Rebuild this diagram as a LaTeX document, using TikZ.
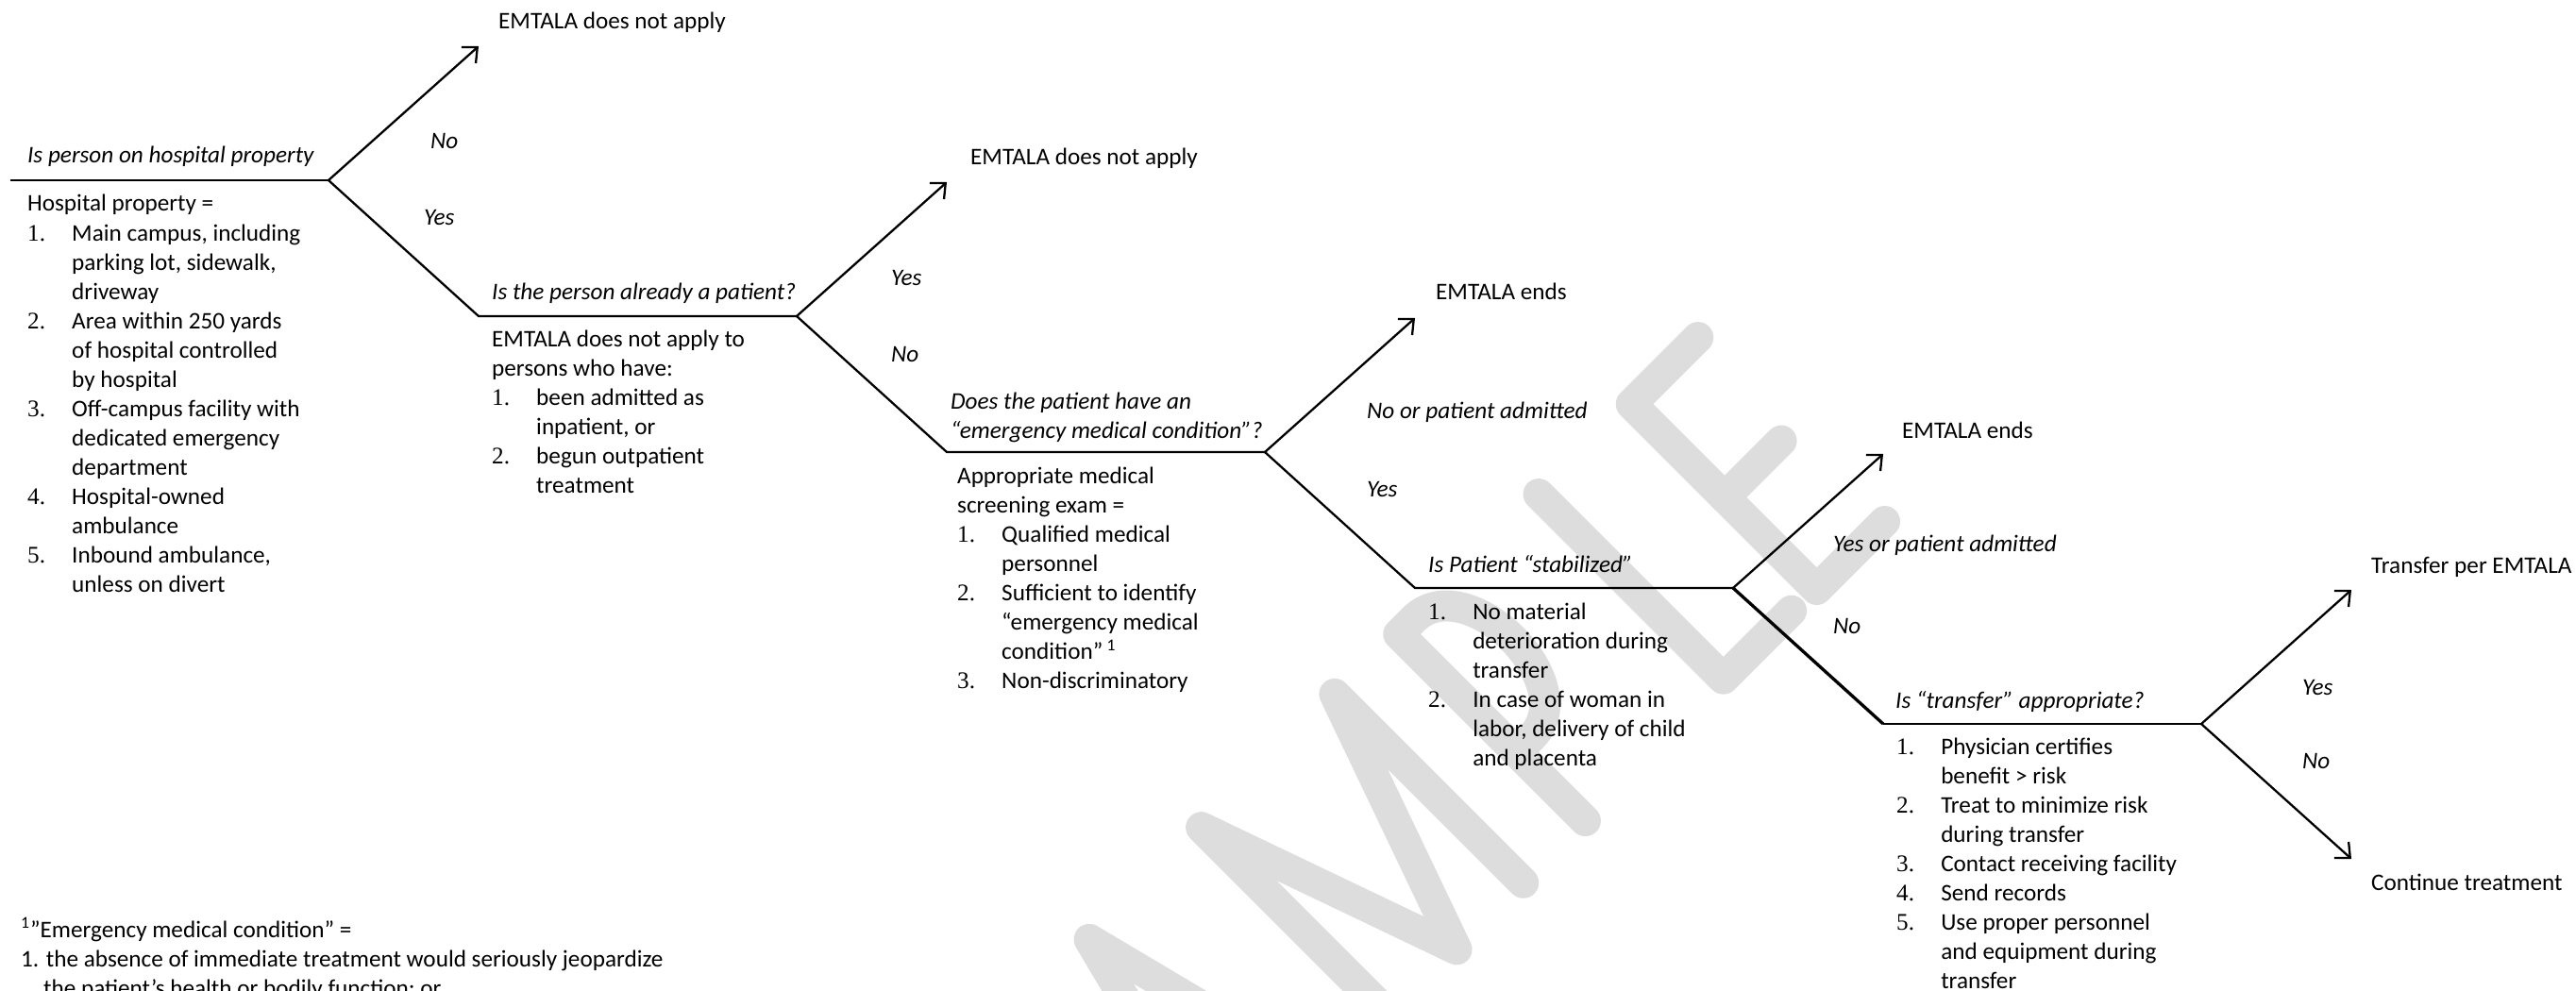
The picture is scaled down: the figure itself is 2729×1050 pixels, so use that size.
\documentclass[tikz,border=0pt]{standalone}
\usepackage{fontspec}
\setmainfont{Carlito}
\newfontfamily\numfont{Liberation Serif}
\usepackage{tikz}
\usetikzlibrary{arrows.meta}
\tikzstyle{arrow} = [->, >={Straight Barb[length=6pt,width=11pt]}]
\definecolor{wmgray}{RGB}{221,221,221}
\newcommand{\txtsize}{\fontsize{12.1}{14.9}\selectfont}
\newcommand{\itemno}[1]{\makebox[22.6pt][l]{\numfont #1}}
\newcommand{\itemgap}{\hspace*{22.6pt}}

\begin{document}
\begin{tikzpicture}[x=0.48pt,y=-0.48pt,line width=1.1pt]
\tikzset{question/.style={font=\txtsize\itshape,anchor=base west,inner sep=0pt},
answer/.style={font=\txtsize\itshape,anchor=base west,inner sep=0pt},
outcome/.style={font=\txtsize,anchor=base west,inner sep=0pt},
notes/.style={font=\txtsize,anchor=base west,inner sep=0pt},
wmark/.style={draw=wmgray,line width=15.8pt,line cap=round,line join=round}}
\useasboundingbox (0,0) rectangle (2729,1050);
\clip (0,0) rectangle (2729,1050);

% watermark
\begin{scope}[shift={(1933,633)},x={(0.339pt,0.339pt)},y={(-0.339pt,0.339pt)},wmark]
\draw (-880,12) -- (-808,295) -- (-736,12);
\draw (-858,100) -- (-758,100);
\draw (-640,12) -- (-640,295) -- (-540,12) -- (-440,295) -- (-440,12);
\draw (-347,12) -- (-347,292) -- (-325,292) .. controls (-245,292) and (-245,115) .. (-325,115) -- (-347,115);
\draw (-137,292) -- (-137,15) -- (-35,15);
\draw (100,290) -- (0,290) -- (0,12) -- (102,12);
\draw (0,150) -- (85,150);
\end{scope}

% branch points
\foreach \k in {1,...,5} {
\coordinate (s\k) at ({-485+496*\k},{47+144*\k});
\coordinate (b\k) at ({-148+496*\k},{47+144*\k});
\coordinate (e\k) at ({11+496*\k},{-95+144*\k}); }
\coordinate (e6) at (2491,910);

\draw (s1) -- (b1);
\draw (b1) -- (s2) -- (b2);
\draw (b2) -- (s3) -- (b3);
\draw (b3) -- (s4) -- (b4);
\draw[line width=1.6pt] (b4) -- (s5);
\draw (s5) -- (b5);
\foreach \k in {1,...,5} {
\draw[arrow] (b\k) -- (e\k); }
\draw[arrow] (b5) -- (e6);

% questions
\node[question] (q1) at (28,173) {Is person on hospital property};
\node[question] (q2) at (520,318) {Is the person already a patient?};
\node[question] (q3) at (1006,433) {\begin{tabular}[t]{@{}l@{}}Does the patient have an\\“emergency medical condition”?\end{tabular}};
\node[question] (q4) at (1512,606) {Is Patient “stabilized”};
\node[question] (q5) at (2007,750) {Is “transfer” appropriate?};

% outcomes
\node[outcome] (out1) at (527,31) {EMTALA does not apply};
\node[outcome] (out2) at (1027,175) {EMTALA does not apply};
\node[outcome] (out3) at (1520,318) {EMTALA ends};
\node[outcome] (out4) at (2014,464) {EMTALA ends};
\node[outcome] (out5) at (2511,607) {Transfer per EMTALA};
\node[outcome] (out6) at (2511,943) {Continue treatment};

% answers
\node[answer] (no1) at (455,158) {No};
\node[answer] (yes1) at (448,239) {Yes};
\node[answer] (yes2) at (943,303) {Yes};
\node[answer] (no2) at (943,384) {No};
\node[answer] (no3) at (1447,443) {No or patient admitted};
\node[answer] (yes3) at (1447,526) {Yes};
\node[answer] (yes4) at (1941,584) {Yes or patient admitted};
\node[answer] (no4) at (1941,671) {No};
\node[answer] (yes5) at (2438,736) {Yes};
\node[answer] (no5) at (2438,814) {No};

% lists
\node[notes] (prop) at (28,224) {\begin{tabular}[t]{@{}l@{}}
Hospital property =\\
\itemno{1.}Main campus, including\\
\itemgap parking lot, sidewalk,\\
\itemgap driveway\\
\itemno{2.}Area within 250 yards\\
\itemgap of hospital controlled\\
\itemgap by hospital\\
\itemno{3.}Off-campus facility with\\
\itemgap dedicated emergency\\
\itemgap department\\
\itemno{4.}Hospital-owned\\
\itemgap ambulance\\
\itemno{5.}Inbound ambulance,\\
\itemgap unless on divert
\end{tabular}};
\node[notes] (pat) at (520,367) {\begin{tabular}[t]{@{}l@{}}
EMTALA does not apply to\\
persons who have:\\
\itemno{1.}been admitted as\\
\itemgap inpatient, or\\
\itemno{2.}begun outpatient\\
\itemgap treatment
\end{tabular}};
\node[notes] (mse) at (1013,512) {\begin{tabular}[t]{@{}l@{}}
Appropriate medical\\
screening exam =\\
\itemno{1.}Qualified medical\\
\itemgap personnel\\
\itemno{2.}Sufficient to identify\\
\itemgap “emergency medical\\
\itemgap condition”\hspace{2pt}\textsuperscript{1}\\
\itemno{3.}Non-discriminatory
\end{tabular}};
\node[notes] (stab) at (1512,656) {\begin{tabular}[t]{@{}l@{}}
\itemno{1.}No material\\
\itemgap deterioration during\\
\itemgap transfer\\
\itemno{2.}In case of woman in\\
\itemgap labor, delivery of child\\
\itemgap and placenta
\end{tabular}};
\node[notes] (trans) at (2008,799) {\begin{tabular}[t]{@{}l@{}}
\itemno{1.}Physician certifies\\
\itemgap benefit > risk\\
\itemno{2.}Treat to minimize risk\\
\itemgap during transfer\\
\itemno{3.}Contact receiving facility\\
\itemno{4.}Send records\\
\itemno{5.}Use proper personnel\\
\itemgap and equipment during\\
\itemgap transfer
\end{tabular}};

% footnote
\node[notes] (foot) at (21,993) {\begin{tabular}[t]{@{}l@{}}
\textsuperscript{1}”Emergency medical condition” =\\
1. the absence of immediate treatment would seriously jeopardize\\
\hspace*{11.5pt}the patient’s health or bodily function; or
\end{tabular}};

\end{tikzpicture}
\end{document}
